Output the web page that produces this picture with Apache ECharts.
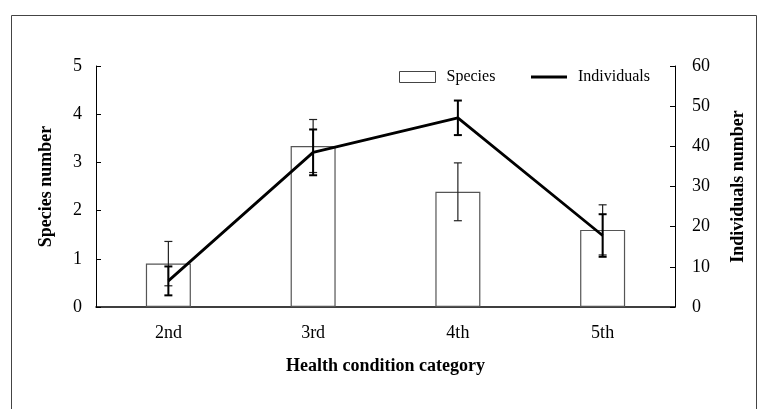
<!DOCTYPE html>
<html>
<head>
<meta charset="utf-8">
<script src="https://cdn.jsdelivr.net/npm/echarts@6/dist/echarts.min.js"></script>
<style>
html,body{margin:0;padding:0;background:#fff;}
#main{width:758px;height:409px;}
</style>
</head>
<body>
<div id="main"></div>
<script>
var categories = ['2nd', '3rd', '4th', '5th'];
var speciesMean = [0.9, 3.34, 2.39, 1.6];
var speciesErr = [0.46, 0.55, 0.6, 0.52];
var individualsMean = [6.5, 38.5, 47.1, 17.8];
var individualsErr = [3.6, 5.7, 4.3, 5.3];
var leftTicks = [0, 1, 2, 3, 4, 5];
var rightTicks = [0, 10, 20, 30, 40, 50, 60];

var FONT = 'Liberation Serif';

function errData(mean, err) {
  return mean.map(function (m, i) { return [i, m - err[i], m + err[i]]; });
}

function errRender(width, color, capHalf) {
  return function (params, api) {
    var x = api.value(0);
    var lo = api.coord([x, api.value(1)]);
    var hi = api.coord([x, api.value(2)]);
    var style = { stroke: color, lineWidth: width, fill: null };
    return {
      type: 'group',
      children: [
        { type: 'line', shape: { x1: lo[0], y1: lo[1], x2: hi[0], y2: hi[1] }, style: style },
        { type: 'line', shape: { x1: lo[0] - capHalf, y1: lo[1], x2: lo[0] + capHalf, y2: lo[1] }, style: style },
        { type: 'line', shape: { x1: hi[0] - capHalf, y1: hi[1], x2: hi[0] + capHalf, y2: hi[1] }, style: style }
      ]
    };
  };
}

var chart = echarts.init(document.getElementById('main'), null, { renderer: 'canvas' });

var axisText = { fontFamily: FONT, fontSize: 18, color: '#000' };
var legendText = { fontFamily: FONT, fontSize: 16, color: '#000', padding: [0, 0, 0, 6] };

chart.setOption({
  animation: false,
  backgroundColor: '#fff',
  graphic: [{
    type: 'rect',
    shape: { x: 11.5, y: 15.5, width: 745, height: 420 },
    style: { fill: null, stroke: '#444', lineWidth: 1 },
    silent: true
  }],
  legend: [{
    left: 394,
    top: 64,
    itemWidth: 36,
    itemHeight: 11,
    textStyle: legendText,
    data: [
      { name: 'Species', icon: 'rect', itemStyle: { color: '#fff', borderColor: '#444', borderWidth: 1 } }
    ]
  }, {
    left: 526,
    top: 64,
    itemWidth: 36,
    itemHeight: 3,
    textStyle: legendText,
    data: [
      { name: 'Individuals', icon: 'rect', itemStyle: { color: '#000' } }
    ]
  }],
  grid: { left: 96, right: 83, top: 66, bottom: 102 },
  xAxis: {
    type: 'category',
    data: categories,
    boundaryGap: true,
    axisLine: { lineStyle: { color: '#000', width: 1.5 } },
    axisTick: { inside: true, length: 5, lineStyle: { color: '#000' } },
    axisLabel: Object.assign({ margin: 17 }, axisText),
    name: 'Health condition category',
    nameLocation: 'middle',
    nameGap: 50,
    nameTextStyle: { fontFamily: FONT, fontSize: 18, fontWeight: 'bold', color: '#000' }
  },
  yAxis: [{
    type: 'value',
    min: leftTicks[0],
    max: leftTicks[leftTicks.length - 1],
    interval: 1,
    axisLine: { show: true, lineStyle: { color: '#000', width: 1 } },
    axisTick: { show: true, inside: true, length: 5, lineStyle: { color: '#000' } },
    splitLine: { show: false },
    axisLabel: Object.assign({ margin: 14 }, axisText),
    name: 'Species number',
    nameLocation: 'middle',
    nameGap: 41,
    nameTextStyle: { fontFamily: FONT, fontSize: 18, fontWeight: 'bold', color: '#000' }
  }, {
    type: 'value',
    position: 'right',
    min: rightTicks[0],
    max: rightTicks[rightTicks.length - 1],
    interval: 10,
    axisLine: { show: true, lineStyle: { color: '#000', width: 1 } },
    axisTick: { show: true, inside: true, length: 5, lineStyle: { color: '#000' } },
    splitLine: { show: false },
    axisLabel: Object.assign({ margin: 17 }, axisText),
    name: 'Individuals number',
    nameLocation: 'middle',
    nameGap: 54,
    nameRotate: 90,
    nameTextStyle: { fontFamily: FONT, fontSize: 18, fontWeight: 'bold', color: '#000' }
  }],
  series: [{
    name: 'Species',
    type: 'bar',
    yAxisIndex: 0,
    data: speciesMean,
    barWidth: 45,
    itemStyle: { color: '#fff', borderColor: '#555', borderWidth: 1.2 },
    z: 2
  }, {
    name: 'SpeciesErr',
    type: 'custom',
    yAxisIndex: 0,
    data: errData(speciesMean, speciesErr),
    renderItem: errRender(1.2, '#222', 4),
    encode: { x: 0, y: [1, 2] },
    z: 3
  }, {
    name: 'Individuals',
    type: 'line',
    yAxisIndex: 1,
    data: individualsMean,
    symbol: 'none',
    lineStyle: { color: '#000', width: 2.8 },
    itemStyle: { color: '#000' },
    z: 4
  }, {
    name: 'IndividualsErr',
    type: 'custom',
    yAxisIndex: 1,
    data: errData(individualsMean, individualsErr),
    renderItem: errRender(2, '#000', 4),
    encode: { x: 0, y: [1, 2] },
    z: 5
  }]
});
</script>
</body>
</html>
